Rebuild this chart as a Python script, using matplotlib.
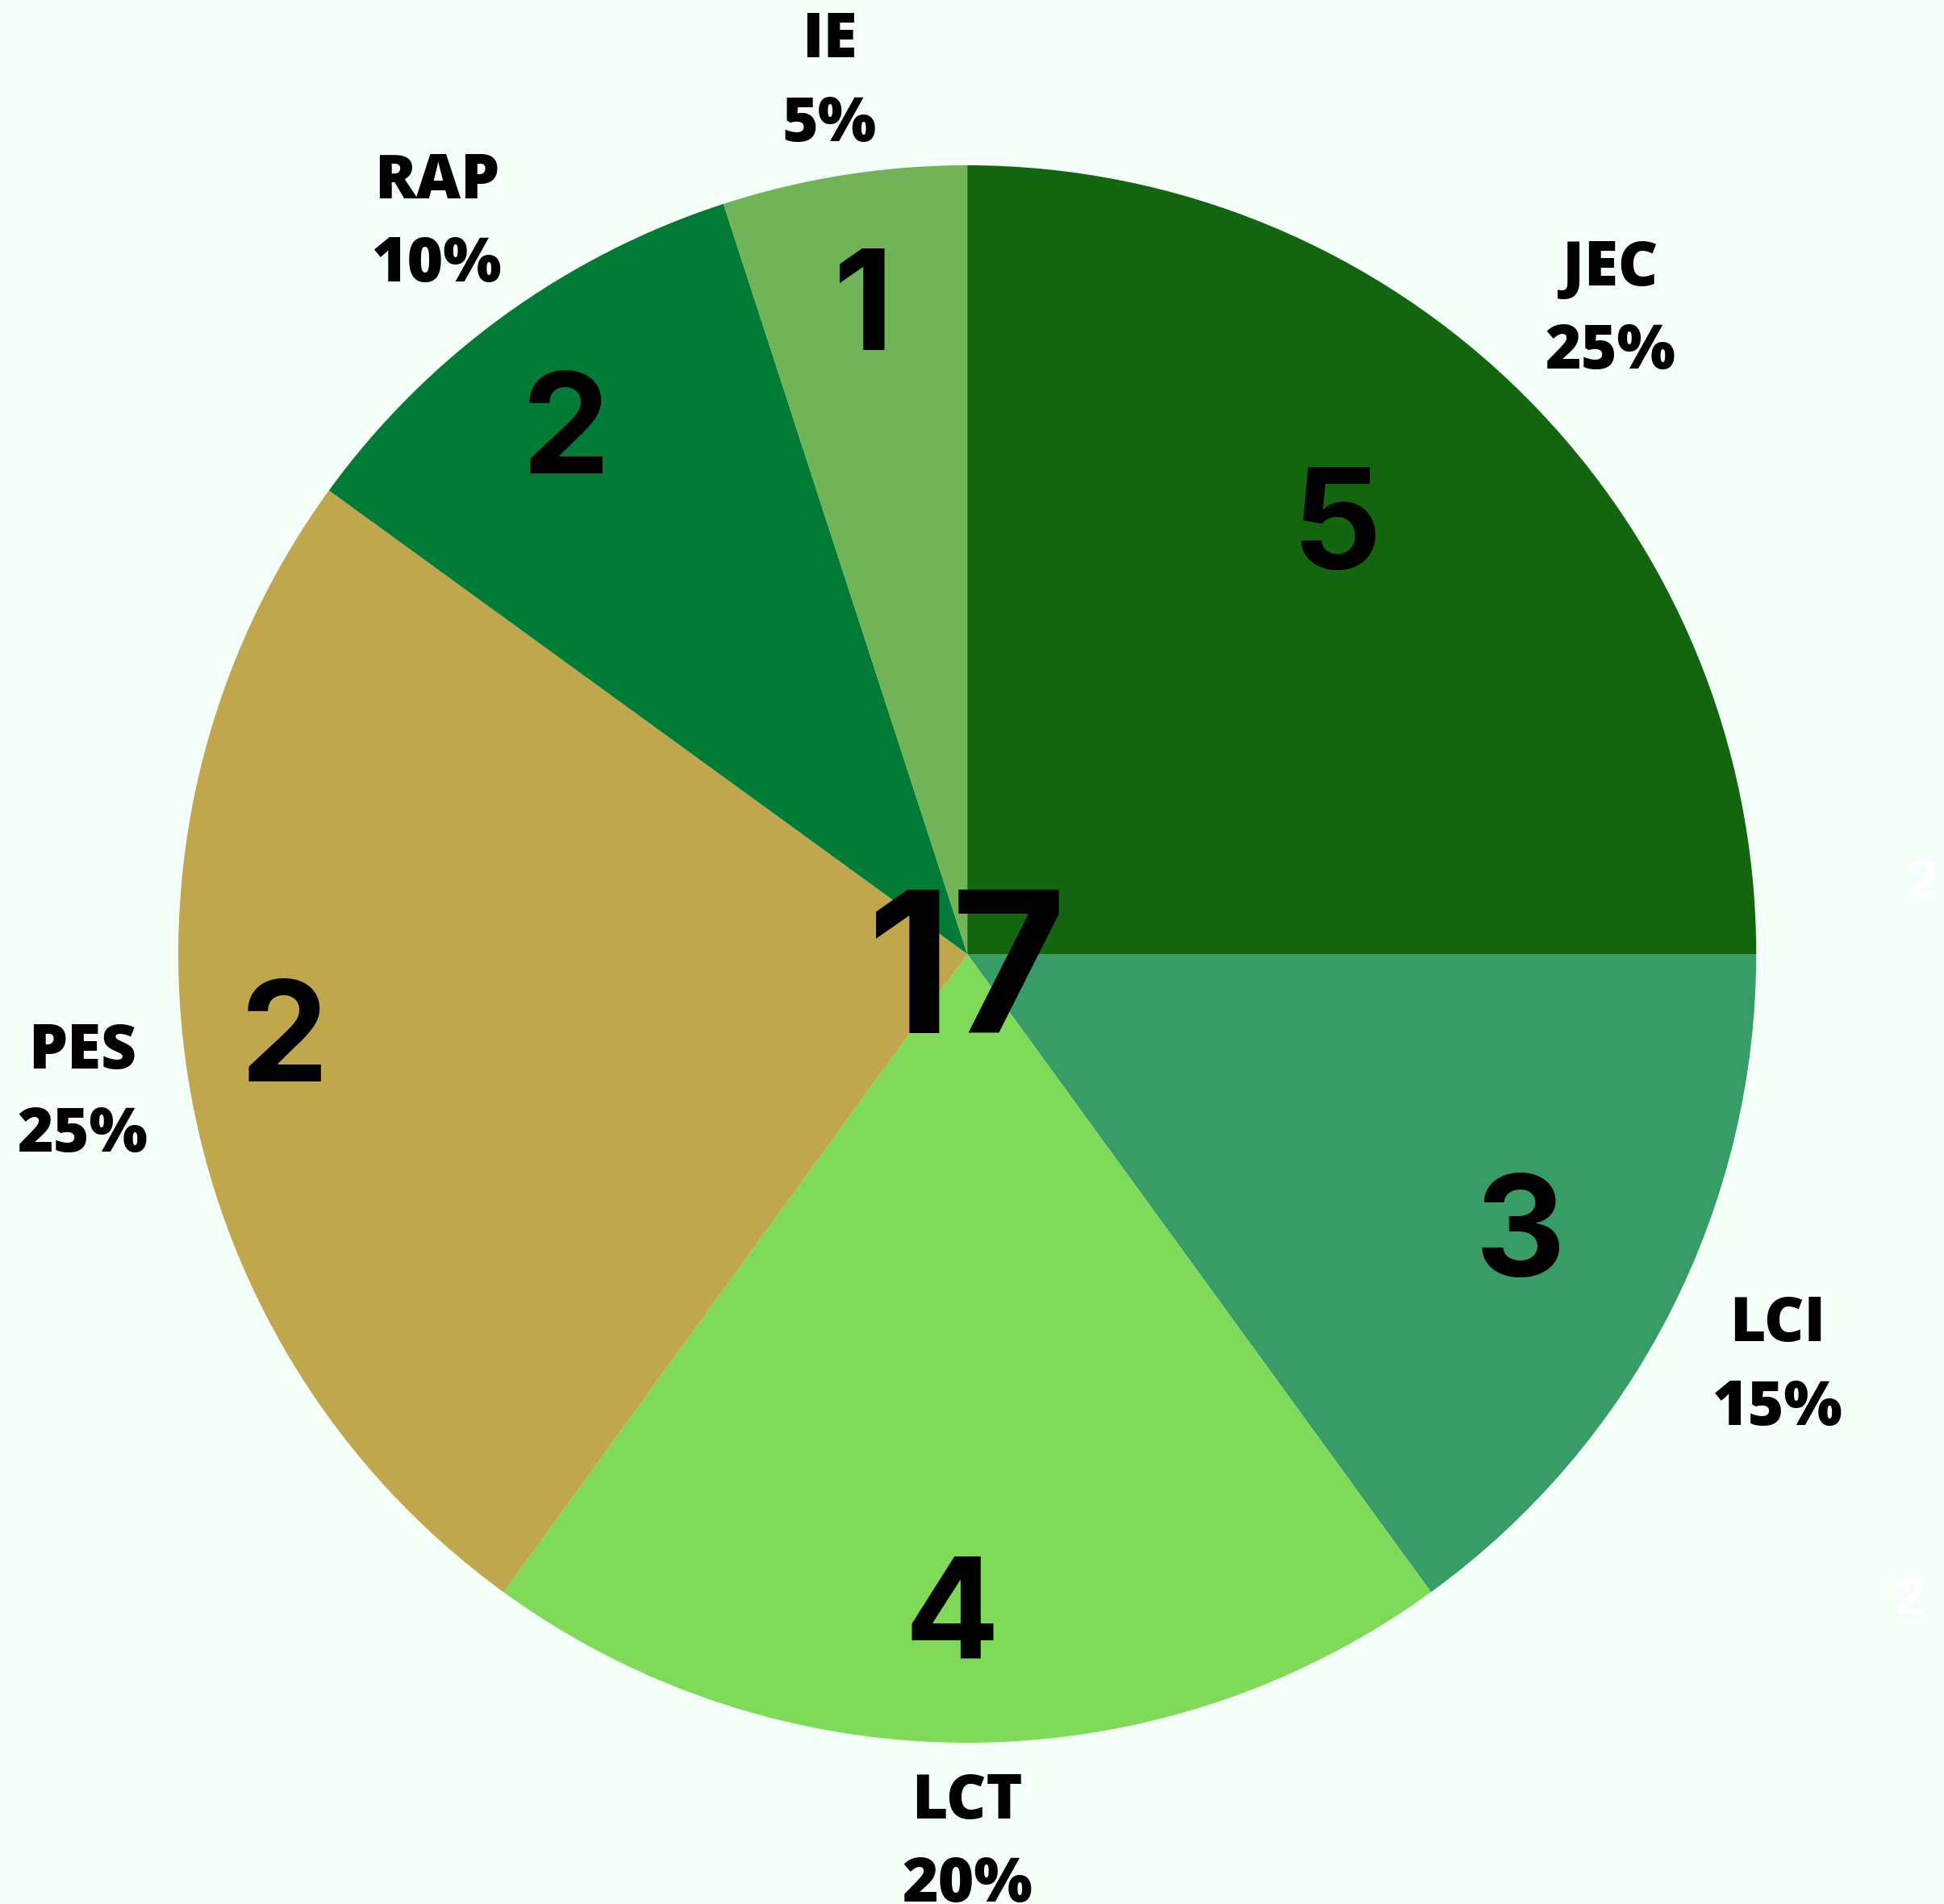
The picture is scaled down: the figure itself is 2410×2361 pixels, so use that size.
import matplotlib
matplotlib.use('Agg')
import matplotlib.pyplot as plt
import numpy as np

names = ['JEC', 'LCI', 'LCT', 'PES', 'RAP', 'IE']
shares = [25, 15, 20, 25, 10, 5]
counts = [5, 3, 4, 2, 2, 1]
colors = ['#14650f', '#389c66', '#80da5a', '#c0a64c', '#017b35', '#71b457']
bg = '#f4fff9'

fig = plt.figure(figsize=(24.10, 23.61), dpi=100, facecolor=bg)
ax = fig.add_axes([0, 0, 1, 1])
ax.set_facecolor(bg)

wedges, _ = ax.pie(shares, colors=colors, startangle=90, counterclock=False,
                   radius=1, wedgeprops=dict(linewidth=0))

# placement tweaks per wedge: outer label radius, inner number radius / angle shift
label_r = [1.153, 1.153, 1.128, 1.135, 1.144, 1.118]
inner_r = [0.711, 0.788, 0.846, 0.873, 0.830, 0.823]
inner_da = [3.8, -0.3, -1.3, -1.4, 1.8, 0.3]

for i, w in enumerate(wedges):
    mid = (w.theta1 + w.theta2) / 2
    ang = np.deg2rad(mid)
    ax.text(label_r[i] * np.cos(ang), label_r[i] * np.sin(ang),
            f'{names[i]}\n{shares[i]}%',
            ha='center', va='center', fontsize=55, fontweight='heavy',
            family='Open Sans', linespacing=1.47)
    a2 = np.deg2rad(mid + inner_da[i])
    ax.text(inner_r[i] * np.cos(a2), inner_r[i] * np.sin(a2), str(counts[i]),
            ha='center', va='center', fontsize=125, fontweight='bold', family='Inter')

ax.text(0, -0.035, str(sum(counts)), ha='center', va='center',
        fontsize=176, fontweight='bold', family='Inter')

# faint white labels at the right edge
fig.text(0.989, 0.536, '2', ha='center', va='center', color='white',
         fontsize=45, fontweight='bold', family='Inter')
fig.text(0.982, 0.159, '2', ha='center', va='center', color='white',
         fontsize=45, fontweight='bold', family='Inter')

ax.set_xlim(-1.226, 1.238)
ax.set_ylim(-1.2045, 1.2096)
ax.set_aspect('auto')
ax.axis('off')

fig.savefig('out.png', dpi=100, facecolor=bg)
